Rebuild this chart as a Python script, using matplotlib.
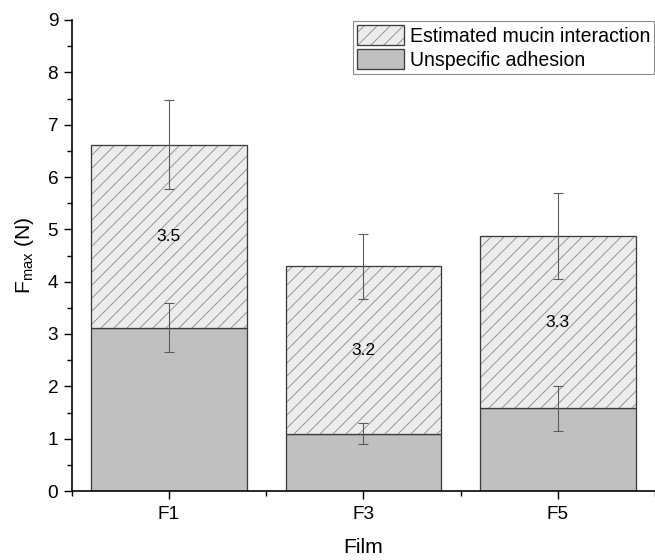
import matplotlib
matplotlib.use("Agg")
import matplotlib.pyplot as plt
from matplotlib.patches import Patch
from matplotlib.legend_handler import HandlerTuple
from matplotlib.ticker import MultipleLocator, FixedLocator

plt.rcParams['font.family'] = ['Liberation Sans', 'DejaVu Sans']
plt.rcParams['mathtext.fontset'] = 'custom'
plt.rcParams['mathtext.rm'] = 'Liberation Sans'
plt.rcParams['mathtext.it'] = 'Liberation Sans'
plt.rcParams['hatch.linewidth'] = 0.8

films = ['F1', 'F3', 'F5']
unspecific = [3.12, 1.09, 1.58]
unspecific_err = [0.47, 0.20, 0.43]
total = [6.62, 4.29, 4.87]
total_err = [0.85, 0.63, 0.82]
mucin_labels = ['3.5', '3.2', '3.3']

DPI = 78
fig = plt.figure(figsize=(655 / DPI, 560 / DPI), dpi=DPI)
ax = fig.add_axes([71.7 / 655, 69 / 560, (655 - 71.7) / 655, (491 - 20) / 560])

x = list(range(len(films)))
mucin = [t - u for t, u in zip(total, unspecific)]
w = 0.8
edge = '#3c3c3c'
hatch_col = '#8c8c8c'

# unspecific
ax.bar(x, unspecific, width=w, color='#c0c0c0', edgecolor=edge, linewidth=1.2, zorder=2)
# mucin hatched part (hatch layer + outline layer)
ax.bar(x, mucin, bottom=unspecific, width=w, color='#ececec', edgecolor=hatch_col,
       hatch='//', linewidth=0, zorder=2)
ax.bar(x, mucin, bottom=unspecific, width=w, fill=False, edgecolor=edge, linewidth=1.2, zorder=3)

ax.errorbar(x, unspecific, yerr=unspecific_err, fmt='none', ecolor='#5a5a5a',
            elinewidth=1.0, capsize=4.5, capthick=1.0, zorder=4)
ax.errorbar(x, total, yerr=total_err, fmt='none', ecolor='#5a5a5a',
            elinewidth=1.0, capsize=4.5, capthick=1.0, zorder=4)

for xi, u, m, lab in zip(x, unspecific, mucin, mucin_labels):
    ax.text(xi, u + m / 2, lab, ha='center', va='center', fontsize=16, zorder=5)

ax.set_xlim(-0.5, 2.5)
ax.set_ylim(0, 9)
ax.set_xticks(x)
ax.set_xticklabels(films)
ax.xaxis.set_minor_locator(FixedLocator([-0.5, 0.5, 1.5, 2.5]))
ax.yaxis.set_major_locator(MultipleLocator(1))
ax.yaxis.set_minor_locator(MultipleLocator(0.5))

for s in ['top', 'right']:
    ax.spines[s].set_visible(False)
for s in ['left', 'bottom']:
    ax.spines[s].set_linewidth(1.5)
    ax.spines[s].set_color('black')

ax.tick_params(axis='both', which='major', direction='out', length=7.5, width=1.3,
               labelsize=17.5, pad=5)
ax.tick_params(axis='both', which='minor', direction='out', length=4.5, width=1.3)
ax.tick_params(axis='x', which='major', pad=6)

ax.set_xlabel('Film', fontsize=19.5, labelpad=14)
ax.set_ylabel(r'F$_{\mathregular{max}}$ (N)', fontsize=19.5, labelpad=11)

h_m = (Patch(facecolor='#ececec', edgecolor=hatch_col, hatch='//', linewidth=0),
       Patch(fill=False, edgecolor=edge, linewidth=1.2))
h_u = Patch(facecolor='#c0c0c0', edgecolor=edge, linewidth=1.2)
leg = ax.legend([h_m, h_u], ['Estimated mucin interaction', 'Unspecific adhesion'],
                handler_map={tuple: HandlerTuple(ndivide=1, pad=0)},
                loc='upper right', bbox_to_anchor=(0.998, 0.997), borderaxespad=0.0,
                fontsize=18, fancybox=False, framealpha=1, edgecolor=hatch_col,
                handlelength=2.4, handleheight=1.15, handletextpad=0.3,
                labelspacing=0.2, borderpad=0.2)
leg.get_frame().set_linewidth(1.0)

fig.savefig('out.png', dpi=DPI)
